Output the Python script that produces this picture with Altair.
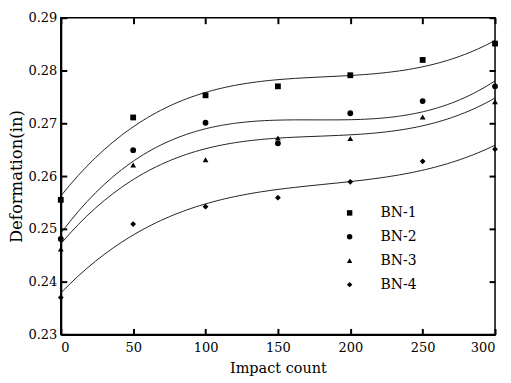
import altair as alt
import pandas as pd

impacts = [0, 50, 100, 150, 200, 250, 300]
bn1 = [0.2555, 0.2711, 0.2753, 0.2770, 0.2791, 0.2820, 0.2851]
bn2 = [0.2481, 0.2649, 0.2701, 0.2662, 0.2719, 0.2742, 0.2770]
bn3 = [0.2462, 0.2621, 0.2631, 0.2672, 0.2671, 0.2712, 0.2741]
bn4 = [0.2370, 0.2509, 0.2542, 0.2559, 0.2589, 0.2628, 0.2651]
series_names = ["BN-1", "BN-2", "BN-3", "BN-4"]
x_ticks = [0, 50, 100, 150, 200, 250, 300]
y_ticks = [0.23, 0.24, 0.25, 0.26, 0.27, 0.28, 0.29]

rows = []
for name, vals in zip(series_names, [bn1, bn2, bn3, bn4]):
    for xv, yv in zip(impacts, vals):
        rows.append({"impact": xv, "deform": yv, "series": name})
df = pd.DataFrame(rows)

FONT = "DejaVu Serif"
xs = alt.Scale(domain=[0, 300], nice=False, zero=False)
ys = alt.Scale(domain=[0.23, 0.29], nice=False, zero=False)

base = alt.Chart(df)

points = base.mark_point(filled=True, size=34, opacity=1, color="black").encode(
    x=alt.X("impact:Q", scale=xs, axis=alt.Axis(
        orient="bottom", values=x_ticks, tickSize=0, labelPadding=7,
        labelFont=FONT, labelFontSize=13, labelColor="black",
        title="Impact count", titleFont=FONT, titleFontSize=14.5,
        titleFontWeight="normal", titleColor="black", titlePadding=7,
        domainColor="black", domainWidth=2, grid=False)),
    y=alt.Y("deform:Q", scale=ys, axis=alt.Axis(
        orient="left", values=y_ticks, format=".2f", tickSize=0, labelPadding=4,
        labelFont=FONT, labelFontSize=13, labelColor="black",
        title="Deformation(in)", titleFont=FONT, titleFontSize=16.5,
        titleFontWeight="normal", titleColor="black", titlePadding=3,
        domainColor="black", domainWidth=2, grid=False)),
    shape=alt.Shape("series:N", scale=alt.Scale(
        domain=series_names, range=["square", "circle", "triangle-up", "diamond"]),
        legend=alt.Legend(title=None, orient="none", legendX=283, legendY=189,
                          labelFont=FONT, labelFontSize=14, labelColor="black",
                          labelOffset=24, rowPadding=10, symbolSize=30,
                          symbolFillColor="black", symbolStrokeColor="black")),
)

lines = base.transform_regression(
    "impact", "deform", groupby=["series"], method="poly", order=3
).mark_line(color="#222222", strokeWidth=1).encode(
    x=alt.X("impact:Q", scale=xs, axis=None),
    y=alt.Y("deform:Q", scale=ys, axis=None),
    detail="series:N",
)

def tick_axis(orient):
    return alt.Axis(orient=orient, values=x_ticks if orient in ("top", "bottom") else y_ticks,
                    labels=False, domain=False, tickSize=6, tickWidth=2,
                    tickColor="black", offset=-6, title=None, grid=False)

ticks_a = base.mark_point(opacity=0).encode(
    x=alt.X("impact:Q", scale=xs, axis=tick_axis("top")),
    y=alt.Y("deform:Q", scale=ys, axis=tick_axis("right")),
)
ticks_b = base.mark_point(opacity=0).encode(
    x=alt.X("impact:Q", scale=xs, axis=tick_axis("bottom")),
    y=alt.Y("deform:Q", scale=ys, axis=tick_axis("left")),
)

chart = alt.layer(lines, points, ticks_a, ticks_b).resolve_axis(
    x="independent", y="independent"
).properties(
    width=436, height=318,
    padding={"left": 1, "top": 3, "right": 5, "bottom": 0},
    background="white",
).configure_view(stroke="black", strokeWidth=1.5)

chart.save("out.html", embed_options={"renderer": "svg", "actions": False})
